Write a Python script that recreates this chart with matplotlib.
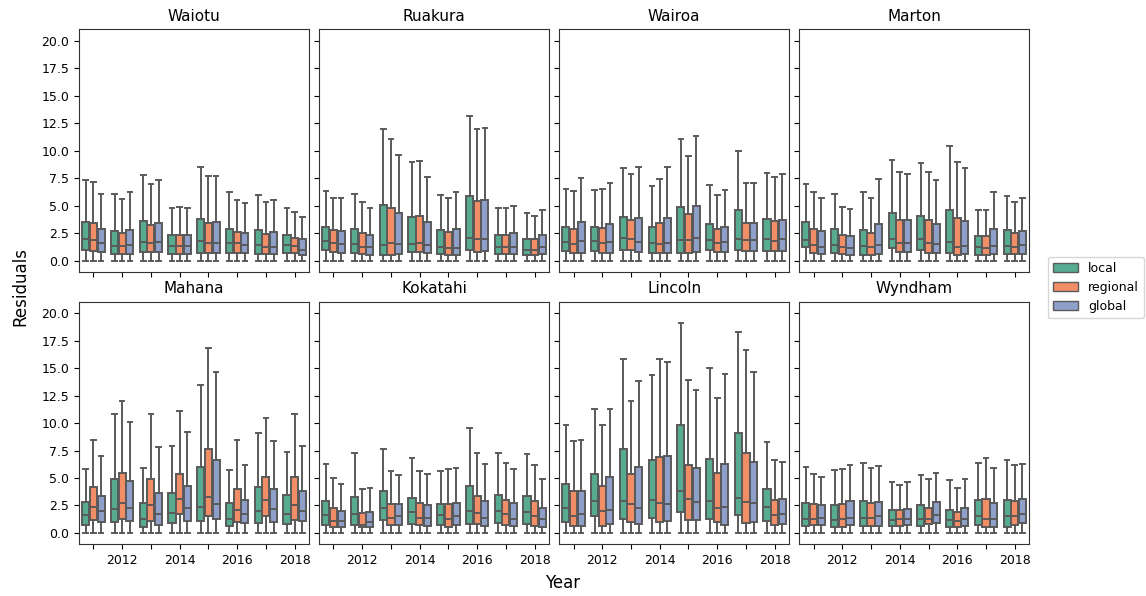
# Residuals per site and year, boxes for local / regional / global models

# Importing the libraries
import matplotlib
matplotlib.use('Agg')
import matplotlib.pyplot as plt
from matplotlib.patches import Patch

# Defining the data
years = [2011, 2012, 2013, 2014, 2015, 2016, 2017, 2018]
models = ['local', 'regional', 'global']
sites = ['Waiotu', 'Ruakura', 'Wairoa', 'Marton',
         'Mahana', 'Kokatahi', 'Lincoln', 'Wyndham']

# lower whisker ends at zero for every box
whisker_low = 0.0

# rows are years, columns are local / regional / global
waiotu_hi = [[7.3, 7.2, 6.1], [6.1, 5.6, 6.2], [7.8, 7.0, 7.3], [4.8, 4.9, 4.8],
             [8.5, 7.7, 7.7], [6.2, 5.5, 5.2], [6.0, 5.3, 5.5], [4.8, 4.4, 4.0]]
waiotu_q3 = [[3.5, 3.4, 2.9], [2.7, 2.5, 2.8], [3.6, 3.2, 3.4], [2.3, 2.3, 2.3],
             [3.8, 3.4, 3.5], [2.9, 2.6, 2.5], [2.8, 2.4, 2.6], [2.3, 2.1, 2.0]]
waiotu_med = [[2.0, 1.9, 1.6], [1.3, 1.3, 1.4], [1.7, 1.6, 1.7], [1.3, 1.3, 1.3],
              [1.8, 1.6, 1.6], [1.6, 1.6, 1.4], [1.4, 1.2, 1.2], [1.4, 1.3, 1.0]]
waiotu_q1 = [[1.0, 0.9, 0.8], [0.6, 0.6, 0.6], [0.8, 0.8, 0.8], [0.6, 0.6, 0.6],
             [0.7, 0.7, 0.7], [0.7, 0.7, 0.7], [0.6, 0.6, 0.6], [0.7, 0.7, 0.5]]

ruakura_hi = [[6.3, 5.7, 5.7], [6.1, 5.3, 4.8], [12.0, 11.1, 9.6], [9.0, 9.1, 7.6],
              [6.0, 5.7, 6.2], [13.2, 12.0, 12.1], [4.8, 4.8, 5.0], [4.3, 4.1, 4.6]]
ruakura_q3 = [[3.1, 2.8, 2.7], [2.9, 2.5, 2.3], [5.1, 4.8, 4.3], [4.0, 4.1, 3.5],
              [2.8, 2.6, 2.9], [5.9, 5.4, 5.5], [2.3, 2.3, 2.5], [2.0, 2.0, 2.3]]
ruakura_med = [[1.8, 1.6, 1.5], [1.5, 1.2, 1.2], [1.4, 1.6, 1.5], [1.5, 1.6, 1.4],
               [1.2, 1.1, 1.1], [2.1, 2.0, 2.0], [1.2, 1.2, 1.2], [1.0, 1.0, 1.2]]
ruakura_q1 = [[1.0, 0.8, 0.7], [0.7, 0.6, 0.5], [0.5, 0.5, 0.6], [0.8, 0.8, 0.7],
              [0.6, 0.5, 0.5], [1.0, 0.8, 0.9], [0.6, 0.6, 0.6], [0.5, 0.5, 0.6]]

wairoa_hi = [[6.5, 6.3, 7.5], [6.4, 6.5, 7.1], [8.4, 7.9, 8.5], [6.8, 7.4, 8.5],
             [11.1, 9.5, 11.3], [6.9, 6.0, 6.4], [10.0, 7.1, 7.1], [8.0, 7.6, 7.9]]
wairoa_q3 = [[3.1, 2.9, 3.5], [3.1, 3.0, 3.3], [4.0, 3.7, 3.9], [3.1, 3.4, 3.9],
             [4.9, 4.2, 5.0], [3.3, 2.9, 3.1], [4.6, 3.4, 3.4], [3.8, 3.6, 3.7]]
wairoa_med = [[1.7, 1.5, 1.8], [1.8, 1.6, 1.7], [2.1, 2.0, 1.7], [1.6, 1.5, 1.6],
              [1.9, 1.9, 2.1], [1.9, 1.6, 1.7], [2.0, 1.9, 1.9], [2.0, 1.8, 2.0]]
wairoa_q1 = [[0.9, 0.7, 0.7], [0.9, 0.7, 0.7], [1.0, 1.0, 0.8], [0.7, 0.7, 0.7],
             [0.7, 0.7, 0.8], [1.0, 0.8, 0.8], [1.0, 0.9, 0.9], [0.9, 0.9, 0.9]]

marton_hi = [[7.0, 6.2, 5.7], [6.1, 4.9, 4.7], [6.2, 5.7, 7.4], [9.2, 8.1, 7.9],
             [8.9, 8.1, 7.3], [10.4, 9.0, 8.4], [4.6, 4.6, 6.2], [5.9, 5.3, 5.7]]
marton_q3 = [[3.5, 2.9, 2.7], [2.9, 2.3, 2.2], [2.8, 2.5, 3.3], [4.3, 3.7, 3.7],
             [4.1, 3.7, 3.3], [4.6, 3.9, 3.6], [2.2, 2.2, 2.9], [2.8, 2.5, 2.7]]
marton_med = [[1.9, 1.4, 1.2], [1.4, 1.2, 1.1], [1.3, 1.2, 1.4], [2.0, 1.6, 1.6],
              [2.0, 1.6, 1.5], [1.7, 1.2, 1.3], [1.2, 1.1, 1.3], [1.3, 1.2, 1.4]]
marton_q1 = [[1.2, 0.7, 0.6], [0.7, 0.6, 0.5], [0.5, 0.5, 0.6], [1.1, 0.8, 0.8],
             [1.0, 0.7, 0.7], [0.7, 0.5, 0.6], [0.5, 0.5, 0.6], [0.6, 0.6, 0.6]]

mahana_hi = [[5.8, 8.5, 7.0], [10.8, 12.0, 10.1], [5.9, 10.8, 7.8], [7.9, 11.1, 9.2],
             [13.5, 16.8, 14.7], [5.7, 8.5, 6.2], [9.1, 10.5, 8.4], [7.4, 10.8, 7.9]]
mahana_q3 = [[2.8, 4.2, 3.4], [4.9, 5.5, 4.7], [2.7, 4.9, 3.6], [3.6, 5.4, 4.3],
             [6.0, 7.6, 6.6], [2.7, 4.0, 3.0], [4.2, 5.1, 4.0], [3.5, 5.1, 3.8]]
mahana_med = [[1.6, 2.4, 2.0], [2.2, 2.7, 2.3], [1.3, 2.5, 1.7], [1.8, 3.1, 2.3],
              [2.4, 3.3, 2.6], [1.3, 2.1, 1.7], [2.0, 3.0, 2.2], [1.7, 2.5, 2.0]]
mahana_q1 = [[0.7, 1.2, 1.0], [1.0, 1.3, 1.1], [0.5, 1.1, 0.7], [0.9, 1.7, 1.1],
             [1.1, 1.5, 1.3], [0.6, 1.0, 0.9], [0.9, 1.5, 1.0], [0.8, 1.2, 1.1]]

kokatahi_hi = [[6.3, 5.0, 4.5], [7.3, 4.0, 4.1], [7.6, 5.6, 5.3], [6.8, 5.6, 5.4],
               [5.6, 5.8, 5.9], [9.6, 7.3, 6.3], [7.3, 6.4, 5.8], [7.2, 6.2, 4.9]]
kokatahi_q3 = [[2.9, 2.3, 2.0], [3.3, 1.8, 1.9], [3.8, 2.6, 2.6], [3.2, 2.7, 2.5],
               [2.6, 2.6, 2.7], [4.3, 3.4, 2.9], [3.5, 3.0, 2.7], [3.4, 2.9, 2.3]]
kokatahi_med = [[1.6, 1.1, 1.1], [1.7, 0.7, 1.0], [2.3, 1.4, 1.5], [1.9, 1.4, 1.4],
                [1.6, 1.3, 1.5], [2.0, 1.8, 1.4], [2.0, 1.7, 1.3], [1.9, 1.5, 1.3]]
kokatahi_q1 = [[0.7, 0.5, 0.5], [0.7, 0.5, 0.5], [1.2, 0.7, 0.7], [0.8, 0.7, 0.6],
               [0.7, 0.5, 0.7], [0.8, 0.8, 0.6], [0.9, 0.7, 0.6], [0.8, 0.6, 0.5]]

lincoln_hi = [[9.8, 8.4, 8.5], [11.3, 9.8, 11.3], [15.8, 12.0, 13.8], [14.4, 15.8, 15.6],
              [19.1, 13.9, 13.0], [15.0, 12.3, 14.5], [18.3, 16.7, 14.7], [8.3, 6.6, 6.5]]
lincoln_q3 = [[4.5, 3.8, 3.8], [5.4, 4.3, 5.1], [7.6, 5.4, 6.0], [6.6, 6.9, 7.0],
              [9.8, 6.2, 5.9], [6.7, 5.5, 6.3], [9.1, 7.3, 6.5], [4.0, 3.0, 3.1]]
lincoln_med = [[2.3, 1.5, 1.7], [2.9, 2.0, 2.1], [2.9, 2.6, 2.3], [3.0, 2.7, 2.6],
               [3.8, 3.1, 2.8], [2.9, 2.3, 2.4], [3.2, 2.8, 2.7], [2.4, 1.6, 1.7]]
lincoln_q1 = [[1.0, 0.6, 0.6], [1.5, 0.6, 0.8], [1.3, 1.0, 0.8], [1.4, 1.0, 1.1],
              [1.9, 1.2, 1.2], [1.3, 1.0, 0.7], [1.6, 0.9, 1.0], [1.1, 0.7, 0.8]]

wyndham_hi = [[6.0, 5.4, 5.1], [5.7, 5.8, 6.2], [6.4, 5.9, 6.1], [4.6, 4.4, 4.6],
              [5.3, 4.9, 5.5], [4.8, 4.1, 4.9], [6.4, 6.8, 5.9], [6.6, 6.2, 6.3]]
wyndham_q3 = [[2.7, 2.6, 2.5], [2.5, 2.6, 2.9], [2.9, 2.7, 2.8], [2.1, 2.1, 2.2],
              [2.5, 2.3, 2.8], [2.1, 1.9, 2.3], [3.0, 3.1, 2.7], [3.0, 2.9, 3.1]]
wyndham_med = [[1.3, 1.3, 1.4], [1.2, 1.3, 1.4], [1.4, 1.4, 1.5], [1.2, 1.3, 1.3],
               [1.3, 1.3, 1.6], [1.2, 1.1, 1.3], [1.5, 1.3, 1.3], [1.5, 1.5, 1.7]]
wyndham_q1 = [[0.6, 0.7, 0.7], [0.5, 0.5, 0.7], [0.6, 0.6, 0.6], [0.6, 0.6, 0.7],
              [0.6, 0.8, 0.9], [0.5, 0.5, 0.6], [0.7, 0.5, 0.5], [0.5, 0.7, 0.9]]

site_data = {
    'Waiotu': (waiotu_hi, waiotu_q3, waiotu_med, waiotu_q1),
    'Ruakura': (ruakura_hi, ruakura_q3, ruakura_med, ruakura_q1),
    'Wairoa': (wairoa_hi, wairoa_q3, wairoa_med, wairoa_q1),
    'Marton': (marton_hi, marton_q3, marton_med, marton_q1),
    'Mahana': (mahana_hi, mahana_q3, mahana_med, mahana_q1),
    'Kokatahi': (kokatahi_hi, kokatahi_q3, kokatahi_med, kokatahi_q1),
    'Lincoln': (lincoln_hi, lincoln_q3, lincoln_med, lincoln_q1),
    'Wyndham': (wyndham_hi, wyndham_q3, wyndham_med, wyndham_q1),
}

# Style
colors = ['#56ab91', '#f28e66', '#8e9fca']
line_color = '#5a5a5a'
box_w = 0.8 / 3
offsets = [-box_w, 0.0, box_w]

# Making the figure
fig, axes = plt.subplots(2, 4, figsize=(11.46, 5.96), dpi=100, sharex=True, sharey=True)
fig.subplots_adjust(left=0.069, right=0.898, top=0.951, bottom=0.087, wspace=0.044, hspace=0.123)

for ax, site in zip(axes.flat, sites):
    hi, q3, med, q1 = site_data[site]
    for j, model in enumerate(models):
        stats = []
        for i in range(len(years)):
            stats.append({'whislo': whisker_low, 'q1': q1[i][j], 'med': med[i][j],
                          'q3': q3[i][j], 'whishi': hi[i][j]})
        pos = [i + offsets[j] for i in range(len(years))]
        ax.bxp(stats, positions=pos, widths=box_w * 0.93, capwidths=box_w * 0.6,
               showfliers=False, patch_artist=True, manage_ticks=False,
               boxprops=dict(facecolor=colors[j], edgecolor=line_color, linewidth=1.4),
               medianprops=dict(color=line_color, linewidth=1.4),
               whiskerprops=dict(color=line_color, linewidth=1.4),
               capprops=dict(color=line_color, linewidth=1.4))
    ax.set_title(site, fontsize=11)
    ax.set_xlim(-0.5, len(years) - 0.5)
    ax.set_ylim(-1.02, 21.07)
    ax.set_yticks([0, 2.5, 5, 7.5, 10, 12.5, 15, 17.5, 20])
    ax.set_yticklabels(['0.0', '2.5', '5.0', '7.5', '10.0', '12.5', '15.0', '17.5', '20.0'])
    ax.set_xticks(range(len(years)))
    ax.set_xticklabels([str(y) if y % 2 == 0 else '' for y in years])
    ax.tick_params(labelsize=9)
    for s in ax.spines.values():
        s.set_color('#333333')

# Labels and legend
fig.text(0.491, 0.022, 'Year', ha='center', va='center', fontsize=12)
fig.text(0.018, 0.52, 'Residuals', ha='center', va='center', rotation=90, fontsize=12)
handles = [Patch(facecolor=colors[j], edgecolor=line_color, label=m) for j, m in enumerate(models)]
fig.legend(handles=handles, loc='center left', bbox_to_anchor=(0.909, 0.518), fontsize=9)

fig.savefig('out.png', dpi=100)
